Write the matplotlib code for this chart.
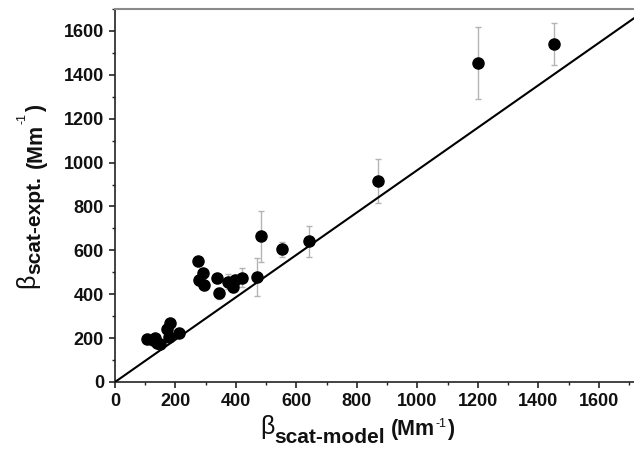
import matplotlib

matplotlib.use("Agg")

import matplotlib.pyplot as plt
from matplotlib.ticker import MultipleLocator
from matplotlib.transforms import IdentityTransform

x_model = [106, 126, 132, 139, 149, 172, 182, 179, 212,
           274, 292, 278, 294, 337, 344, 374, 390, 397, 420,
           469, 484, 552, 641, 869, 1200, 1450]
y_expt = [195, 191, 200, 177, 175, 240, 268, 205, 223,
          550, 497, 464, 441, 473, 405, 458, 435, 464, 475,
          477, 664, 605, 641, 918, 1454, 1541]
y_err = [15, 15, 15, 15, 15, 15, 15, 15, 15,
         20, 20, 20, 20, 20, 25, 35, 25, 25, 43,
         86, 115, 35, 70, 100, 162, 95]

ticks = [0, 200, 400, 600, 800, 1000, 1200, 1400, 1600]
# reference line as drawn in the figure
line_x = [0, 1716]
line_y = [0, 1658]

W, H = 634, 449

plt.rcParams["font.family"] = ["Liberation Sans", "DejaVu Sans"]
plt.rcParams["font.weight"] = "bold"

fig = plt.figure(figsize=(W / 100, H / 100), dpi=100)
ax = fig.add_axes([115 / W, 1 - 382 / H, 1 - 115 / W, (382 - 9) / H])

ax.errorbar(x_model, y_expt, yerr=y_err, fmt="none", ecolor="#b4b4b4",
            elinewidth=1, capsize=2.5, capthick=1, zorder=2)
ax.plot(x_model, y_expt, "o", color="black", markersize=8, zorder=3)
ax.plot(line_x, line_y, color="black", linewidth=1.5, zorder=4)

ax.set_xlim(0, 1716)
ax.set_ylim(0, 1700)
ax.set_xticks(ticks)
ax.set_yticks(ticks)
ax.xaxis.set_minor_locator(MultipleLocator(100))
ax.yaxis.set_minor_locator(MultipleLocator(100))
ax.tick_params(which="major", length=4, width=1.1, direction="out", pad=4,
               labelsize=13, colors="#111111")
ax.tick_params(which="minor", length=2.5, width=1.0, direction="out", colors="#222222")

ax.spines["right"].set_visible(False)
ax.spines["top"].set_color("#8a8a8a")
ax.spines["top"].set_linewidth(1.5)
for side in ("left", "bottom"):
    ax.spines[side].set_color("#222222")
    ax.spines[side].set_linewidth(1.2)


def draw_label(pieces, x0, y0, vertical=False):
    """Lay out label pieces one after another in pixel coordinates."""
    renderer = fig.canvas.get_renderer()
    run = 0.0
    for text, size, weight, gap, rise in pieces:
        run += gap
        pos = (x0 - rise, y0 + run) if vertical else (x0 + run, y0 + rise)
        t = fig.text(pos[0], pos[1], text, fontsize=size, fontweight=weight,
                     transform=IdentityTransform(), rotation=90 if vertical else 0,
                     rotation_mode="anchor", ha="left", va="baseline", color="#111111")
        bb = t.get_window_extent(renderer)
        run += bb.height if vertical else bb.width


draw_label([
    ("\u03b2", 18, "normal", 0, 0),
    ("scat-model", 15, "bold", 0, -9),
    ("(Mm", 15.5, "bold", 6, -1),
    ("-1", 9, "normal", 0, 7),
    (")", 15.5, "bold", 1, -1),
], 260, H - 434)

draw_label([
    ("\u03b2", 18, "normal", 0, 0),
    ("scat-expt.", 15, "bold", 0, -6),
    ("(Mm", 15.5, "bold", 8, -8),
    ("-1", 9, "normal", 0, 8),
    (")", 15.5, "bold", 1, -8),
], 34, H - 288, vertical=True)

fig.savefig("out.png", dpi=100)
plt.close(fig)
